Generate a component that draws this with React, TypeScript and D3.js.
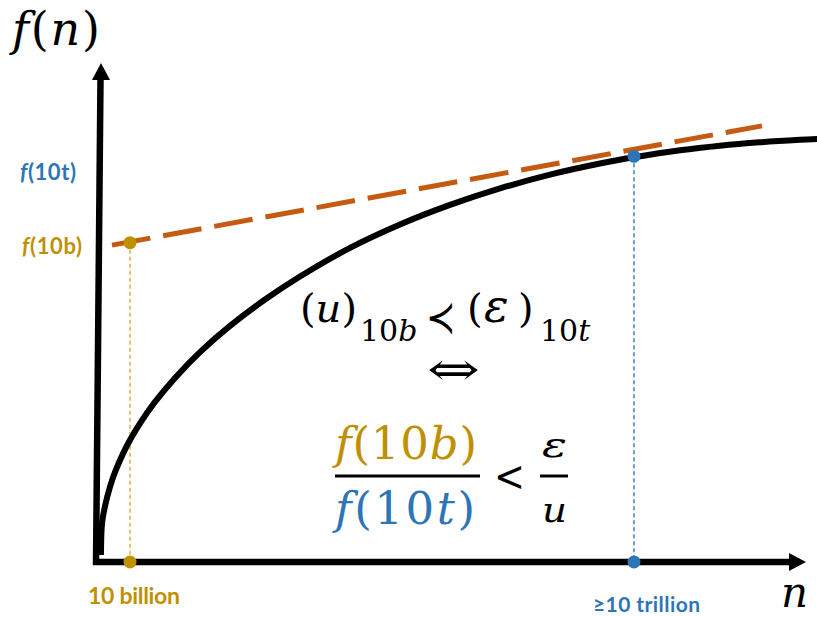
import * as d3 from 'd3';
import React from 'react';

// curve f(n) (n and f on a 0..100 scale)
const curveN = [0.704, 0.845, 1.268, 1.972, 2.676, 3.803, 4.789, 6.197, 8.31, 11.127, 14.648, 18.873, 23.803, 28.732, 35.775, 42.817, 49.859, 56.901, 63.944, 70.986, 75.775, 82.254, 87.887, 93.521, 99.155, 101.972];
const curveF = [1.4, 7.66, 11.2, 15.07, 18.0, 21.72, 24.45, 27.8, 32.08, 36.89, 42.06, 47.31, 52.59, 57.21, 62.95, 67.64, 71.56, 74.87, 77.64, 79.86, 81.1, 82.51, 83.43, 84.11, 84.61, 84.81];

// dashed tangent line
const tangentN = [2.25, 93.8];
const tangentF = [63.5, 87.4];

// the two marked points: 10 billion and 10 trillion
const markN = [4.79, 75.77];
const markF = [64.0, 81.3];
const markColors = ['#BF9000', '#2E75B6'];
const xLabels = ['10 billion', '≥10 trillion'];
const yLabels = ['(10b)', '(10t)'];

const GOLD = '#BF9000';
const BLUE = '#2E75B6';
const ORANGE = '#C55A11';
const MATH = "'DejaVu Serif', serif";
const SANS = "Lato, 'Open Sans', sans-serif";

export default function App() {
    const width = 817;
    const height = 617;

    const x = d3.scaleLinear().domain([0, 100]).range([96, 806]);
    const y = d3.scaleLinear().domain([0, 100]).range([562, 63]);

    const curve = d3.line<number>()
        .x((d, i) => x(curveN[i]))
        .y((d, i) => y(curveF[i]))
        .curve(d3.curveCatmullRom.alpha(0.5));

    const tangent = d3.line<number>()
        .x((d, i) => x(tangentN[i]))
        .y((d, i) => y(tangentF[i]));

    // axes
    const x0 = x(0), y0 = y(0);
    const xEnd = x(100), yEnd = y(100);
    const head = 17, half = 9;

    return (
        <svg width={width} height={height} style={{ position: 'fixed', left: 0, top: 0, background: '#fff' }}>
            {/* dotted drop lines */}
            {markN.map((n, i) => (
                <line key={'drop' + i}
                    x1={x(n)} x2={x(n)} y1={y(markF[i])} y2={y0}
                    stroke={markColors[i]} strokeWidth={1.4} strokeDasharray="4,3" opacity={i === 0 ? 0.75 : 1} />
            ))}

            {/* axes */}
            <line x1={x0 - 3} y1={y0} x2={xEnd - head + 1} y2={y0} stroke="#000" strokeWidth={6.5} />
            <polygon points={`${xEnd},${y0} ${xEnd - head},${y0 - half} ${xEnd - head},${y0 + half}`} fill="#000" />
            <line x1={x0} y1={y0 + 3} x2={x0 + 4.5} y2={yEnd + head - 1} stroke="#000" strokeWidth={6.5} />
            <polygon points={`${x0 + 5},${yEnd} ${x0 + 5 - half},${yEnd + head} ${x0 + 5 + half},${yEnd + head}`} fill="#000" />

            {/* the curve */}
            <path d={curve(curveN) || ''} fill="none" stroke="#000" strokeWidth={6} />

            {/* tangent */}
            <path d={tangent(tangentN) || ''} fill="none" stroke={ORANGE} strokeWidth={5} strokeDasharray="39,13" />

            {/* dots */}
            {markN.map((n, i) => (
                <g key={'dot' + i}>
                    <circle cx={x(n)} cy={y(markF[i])} r={6.5} fill={markColors[i]} />
                    <circle cx={x(n)} cy={y0} r={6.5} fill={markColors[i]} />
                </g>
            ))}

            {/* axis labels */}
            <text x={12} y={45} fontFamily={MATH} fontSize={46} textLength={88} lengthAdjust="spacing">
                <tspan fontStyle="italic">f</tspan>(<tspan fontStyle="italic">n</tspan>)
            </text>
            <text x={781} y={607} fontFamily={MATH} fontSize={42} fontStyle="italic">n</text>

            {/* y labels */}
            {yLabels.map((t, i) => (
                <text key={'yl' + i} x={i === 0 ? 22 : 20} y={i === 0 ? 254 : 180} fill={markColors[i]}
                    fontFamily={SANS} fontWeight="bold" fontSize={22}
                    textLength={i === 0 ? 60 : 56} lengthAdjust="spacing">
                    <tspan fontStyle="italic">f</tspan>{t}
                </text>
            ))}

            {/* x labels */}
            {xLabels.map((t, i) => (
                <text key={'xl' + i} x={i === 0 ? 88 : 593} y={i === 0 ? 604 : 612} fill={markColors[i]}
                    fontFamily={SANS} fontWeight="bold" fontSize={i === 0 ? 23 : 21}
                    textLength={i === 0 ? 92 : 107} lengthAdjust="spacing">
                    {t}
                </text>
            ))}

            {/* relation */}
            <g fontFamily={MATH} fill="#000">
                <text x={300} y={322} fontSize={40}>
                    (<tspan fontStyle="italic">u</tspan>)
                </text>
                <text x={360} y={341} fontSize={30}>
                    10<tspan fontStyle="italic">b</tspan>
                </text>
                <text x={426} y={333} fontSize={46} textLength={30} lengthAdjust="spacingAndGlyphs">≺</text>
                <text y={322} fontSize={40}>
                    <tspan x={467}>(</tspan>
                    <tspan x={484} fontStyle="italic" fontSize={46}>ε</tspan>
                    <tspan x={518}>)</tspan>
                </text>
                <text x={540} y={341} fontSize={30}>
                    10<tspan fontStyle="italic">t</tspan>
                </text>
                <text x={427} y={385} fontSize={46} textLength={53} lengthAdjust="spacingAndGlyphs">⇔</text>

                {/* fraction */}
                <text x={335} y={459} fontSize={45} fill={GOLD} textLength={142} lengthAdjust="spacing">
                    <tspan fontStyle="italic">f</tspan>(10<tspan fontStyle="italic">b</tspan>)
                </text>
                <line x1={335} x2={480} y1={476} y2={476} stroke="#000" strokeWidth={3} />
                <text x={335} y={524} fontSize={45} fill={BLUE} textLength={140} lengthAdjust="spacing">
                    <tspan fontStyle="italic">f</tspan>(10<tspan fontStyle="italic">t</tspan>)
                </text>
                <text x={494} y={491} fontSize={42} textLength={31} lengthAdjust="spacingAndGlyphs">&lt;</text>
                <text x={542} y={457} fontSize={36} fontStyle="italic" textLength={25} lengthAdjust="spacingAndGlyphs">ε</text>
                <line x1={540} x2={568} y1={476} y2={476} stroke="#000" strokeWidth={3} />
                <text x={542} y={522} fontSize={36} fontStyle="italic" textLength={25} lengthAdjust="spacingAndGlyphs">u</text>
            </g>
        </svg>
    );
}
